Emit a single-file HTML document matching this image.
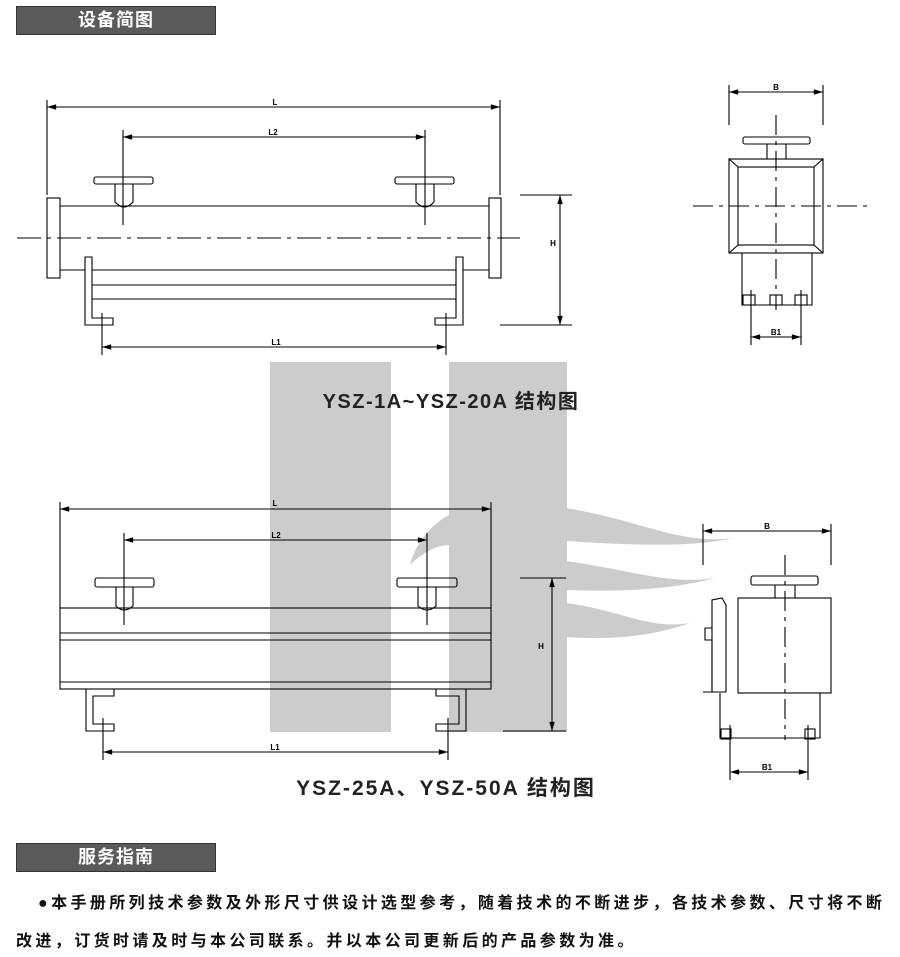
<!DOCTYPE html>
<html><head><meta charset="utf-8"><style>
body{margin:0;background:#fff;width:900px;height:957px;overflow:hidden;font-family:"Liberation Sans","Noto Sans CJK SC",sans-serif}
.bar{position:absolute;left:16px;width:198px;height:27px;background:#5a5a5a;border:1px solid #333;color:#fff;font-weight:bold;font-size:18px;letter-spacing:1px;line-height:27px;text-align:center}
.t{position:absolute;font-weight:bold;font-size:16px;letter-spacing:3.4px;color:#111;white-space:nowrap}
</style></head><body>
<div class="bar" style="top:6px">设备简图</div>
<svg width="900" height="830" style="position:absolute;left:0;top:0" xmlns="http://www.w3.org/2000/svg">
<defs><marker id="a" viewBox="0 0 10 6" refX="10" refY="3" markerWidth="10" markerHeight="5" orient="auto-start-reverse"><path d="M0,0L10,3L0,6z" fill="#000"/></marker></defs>
<g fill="#cccccc">
<rect x="270" y="362" width="121" height="370"/>
<rect x="449" y="362" width="118" height="370"/>
<path d="M566,508 C640,520 680,545 733,538 C690,548 630,545 566,541Z"/>
<path d="M566,561 C630,570 670,585 715,578 C670,590 620,592 566,590Z"/>
<path d="M566,603 C620,610 650,630 690,623 C650,637 610,640 566,637Z"/>
<path d="M449,515 C430,525 415,545 410,565 C425,550 440,545 449,545Z"/>
</g>
<g stroke="#000" stroke-width="1.1" fill="none">
<line x1="47" y1="100" x2="47" y2="195"/><line x1="500" y1="100" x2="500" y2="195"/>
<line x1="47" y1="107" x2="500" y2="107" marker-start="url(#a)" marker-end="url(#a)"/>
<line x1="123" y1="130" x2="123" y2="225"/><line x1="425" y1="130" x2="425" y2="225"/>
<line x1="123" y1="137" x2="425" y2="137" marker-start="url(#a)" marker-end="url(#a)"/>
<rect x="94" y="177" width="59" height="7" rx="2"/><rect x="395" y="177" width="59" height="7" rx="2"/>
<path d="M115,184V202Q124,212 133,202V184"/><path d="M416,184V202Q425,212 434,202V184"/>
<line x1="60" y1="206" x2="489" y2="206"/>
<line x1="60" y1="270" x2="85" y2="270"/><line x1="463" y1="270" x2="489" y2="270"/>
<rect x="47" y="198" width="13" height="80"/><rect x="489" y="198" width="12" height="80"/>
<line x1="17" y1="238" x2="520" y2="238" stroke-dasharray="24,6,4,6"/>
<line x1="92" y1="270" x2="456" y2="270"/><line x1="92" y1="285" x2="456" y2="285"/><line x1="92" y1="299" x2="456" y2="299"/>
<path d="M85,257H92V318H113V325H85Z"/><path d="M463,257H456V318H435V325H463Z"/>
<line x1="102" y1="313" x2="102" y2="355"/><line x1="446" y1="313" x2="446" y2="355"/>
<line x1="102" y1="347" x2="446" y2="347" marker-start="url(#a)" marker-end="url(#a)"/>
<line x1="520" y1="195" x2="572" y2="195"/><line x1="500" y1="325" x2="572" y2="325"/>
<line x1="560" y1="195" x2="560" y2="325" marker-start="url(#a)" marker-end="url(#a)"/>
<line x1="729" y1="85" x2="729" y2="125"/><line x1="823" y1="85" x2="823" y2="125"/>
<line x1="729" y1="92" x2="823" y2="92" marker-start="url(#a)" marker-end="url(#a)"/>
<rect x="743" y="137" width="67" height="7" rx="2"/>
<line x1="767" y1="144" x2="767" y2="159"/><line x1="786" y1="144" x2="786" y2="159"/>
<rect x="729" y="159" width="94" height="94"/><rect x="738" y="167" width="76" height="78"/>
<line x1="729" y1="159" x2="738" y2="167"/><line x1="823" y1="159" x2="814" y2="167"/><line x1="729" y1="253" x2="738" y2="245"/><line x1="823" y1="253" x2="814" y2="245"/>
<line x1="693" y1="206" x2="868" y2="206" stroke-dasharray="20,6,4,6"/>
<line x1="776" y1="115" x2="776" y2="310" stroke-dasharray="20,6,4,6"/>
<path d="M742,253V305H812V253"/>
<rect x="743" y="295" width="12" height="10"/><rect x="770" y="295" width="12" height="10"/><rect x="795" y="295" width="12" height="10"/>
<line x1="751" y1="290" x2="751" y2="345"/><line x1="801" y1="290" x2="801" y2="345"/>
<line x1="751" y1="337" x2="801" y2="337" marker-start="url(#a)" marker-end="url(#a)"/>
<line x1="60" y1="502" x2="60" y2="608"/><line x1="491" y1="502" x2="491" y2="608"/>
<line x1="60" y1="509" x2="491" y2="509" marker-start="url(#a)" marker-end="url(#a)"/>
<line x1="124" y1="533" x2="124" y2="625"/><line x1="427" y1="533" x2="427" y2="625"/>
<line x1="124" y1="540" x2="427" y2="540" marker-start="url(#a)" marker-end="url(#a)"/>
<rect x="95" y="578" width="59" height="9" rx="2"/><rect x="397" y="578" width="60" height="9" rx="2"/>
<path d="M116,587V606Q124,614 133,606V587"/><path d="M418,587V606Q427,614 436,606V587"/>
<rect x="60" y="608" width="431" height="81"/>
<line x1="60" y1="633" x2="491" y2="633"/><line x1="60" y1="640" x2="491" y2="640"/><line x1="60" y1="682" x2="491" y2="682"/>
<path d="M86,689H114V696H93V724H114V731H86Z"/><path d="M466,689H436V696H459V724H436V731H466Z"/>
<line x1="103" y1="718" x2="103" y2="760"/><line x1="448" y1="718" x2="448" y2="760"/>
<line x1="103" y1="752" x2="448" y2="752" marker-start="url(#a)" marker-end="url(#a)"/>
<line x1="520" y1="578" x2="566" y2="578"/><line x1="503" y1="731" x2="566" y2="731"/>
<line x1="552" y1="578" x2="552" y2="731" marker-start="url(#a)" marker-end="url(#a)"/>
<line x1="703" y1="524" x2="703" y2="565"/><line x1="831" y1="524" x2="831" y2="565"/>
<line x1="703" y1="531" x2="831" y2="531" marker-start="url(#a)" marker-end="url(#a)"/>
<rect x="751" y="576" width="67" height="9" rx="2"/>
<line x1="775" y1="585" x2="775" y2="598"/><line x1="795" y1="585" x2="795" y2="598"/>
<rect x="738" y="598" width="93" height="95"/>
<path d="M712,692V600L722,598L726,605V692Z"/><path d="M712,628H705V640H712"/><path d="M712,640V692H703"/>
<line x1="785" y1="555" x2="785" y2="740" stroke-dasharray="20,6,4,6"/>
<path d="M720,693V738H820V693"/>
<rect x="721" y="729" width="10" height="10"/><rect x="805" y="729" width="10" height="10"/>
<line x1="730" y1="725" x2="730" y2="780"/><line x1="808" y1="725" x2="808" y2="780"/>
<line x1="730" y1="772" x2="808" y2="772" marker-start="url(#a)" marker-end="url(#a)"/>
</g>
<g font-family="Liberation Sans,sans-serif" font-size="8" font-weight="bold" text-anchor="middle">
<text x="275" y="105">L</text><text x="273" y="135">L2</text><text x="276" y="345">L1</text><text x="553" y="246">H</text>
<text x="776" y="90">B</text><text x="776" y="335">B1</text>
<text x="275" y="506">L</text><text x="276" y="538">L2</text><text x="275" y="750">L1</text><text x="541" y="649">H</text>
<text x="767" y="529">B</text><text x="767" y="770">B1</text>
</g>
<g font-family="Liberation Sans,Noto Sans CJK SC,sans-serif" font-size="20" font-weight="bold" text-anchor="middle" fill="#222">
<text x="451" y="408" letter-spacing="1.5">YSZ-1A~YSZ-20A 结构图</text>
<text x="446" y="795" font-size="21" letter-spacing="2">YSZ-25A、YSZ-50A 结构图</text>
</g>
</svg>
<div class="bar" style="top:843px">服务指南</div>
<div class="t" style="left:38px;top:889px">●本手册所列技术参数及外形尺寸供设计选型参考，随着技术的不断进步，各技术参数、尺寸将不断</div>
<div class="t" style="left:16px;top:927px">改进，订货时请及时与本公司联系。并以本公司更新后的产品参数为准。</div>
</body></html>
